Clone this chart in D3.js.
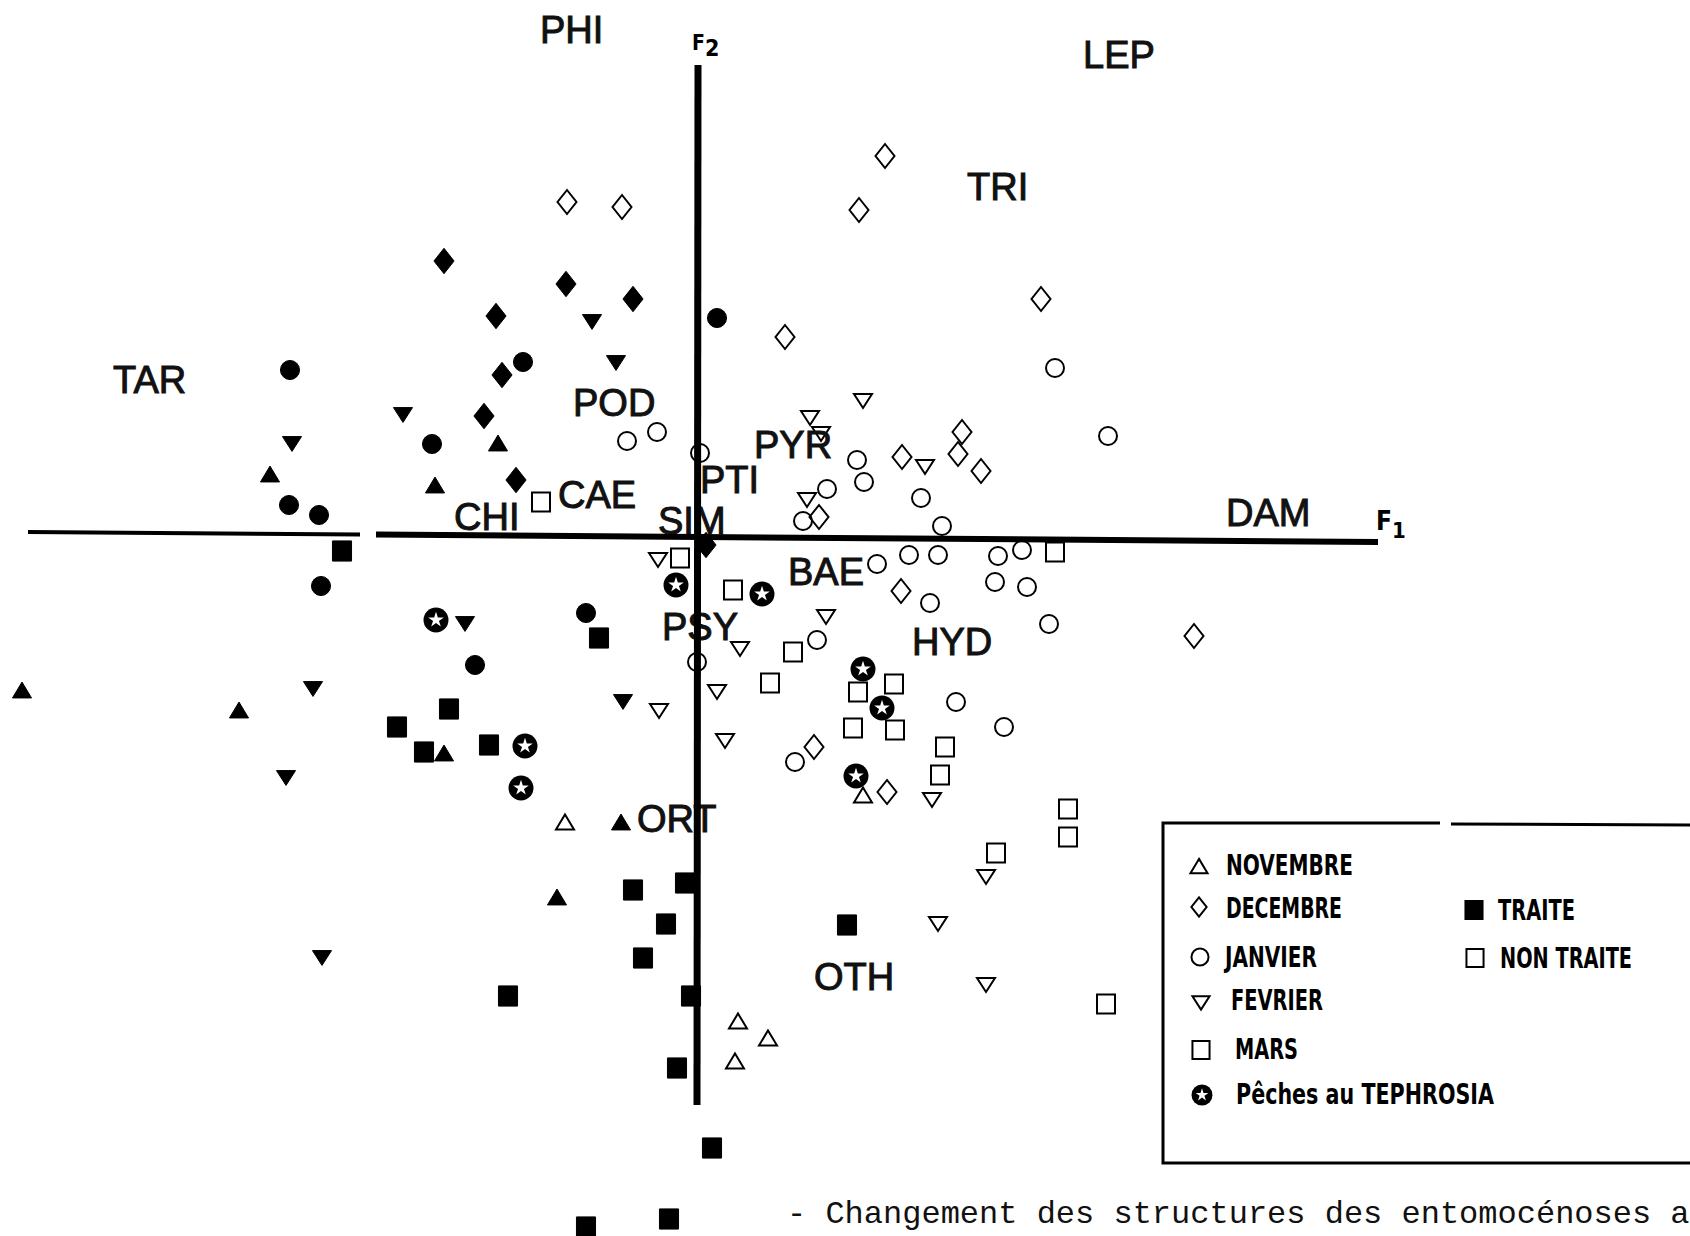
<!DOCTYPE html>
<html><head><meta charset="utf-8">
<script src="https://cdn.jsdelivr.net/npm/d3@7"></script>
<style>html,body{margin:0;padding:0;background:#fff;}svg{display:block;}</style>
</head><body>
<svg id="chart" width="1690" height="1236"></svg>
<script>
// ---------------- DATA (F1, F2 coordinates) ----------------
const novembreTraite = [[-2.00,0.94],[-4.28,0.63],[-2.63,0.52],[-6.76,-1.53],[-4.59,-1.73],[-2.54,-2.16],[-0.77,-2.85],[-1.41,-3.60]];
const novembreNonTraite = [[1.65,-2.58],[-1.33,-2.85],[0.40,-4.84],[0.70,-5.01],[0.37,-5.24]];
const decembreTraite = [[-2.54,2.76],[-1.32,2.53],[-0.65,2.38],[-2.02,2.21],[-1.96,1.62],[-2.14,1.21],[-1.82,0.57],[0.08,-0.08]];
const decembreNonTraite = [[-1.31,3.35],[-0.76,3.30],[1.87,3.81],[1.61,3.27],[3.43,2.38],[0.87,2.00],[2.64,1.05],[2.60,0.83],[2.83,0.66],[2.04,0.80],[1.21,0.20],[2.03,-0.54],[1.16,-2.10],[1.89,-2.55],[4.96,-0.99]];
const janvierTraite = [[0.19,2.19],[-1.75,1.75],[-4.08,1.67],[-2.66,0.93],[-4.09,0.32],[-3.79,0.22],[-3.77,-0.49],[-1.12,-0.76],[-2.23,-1.28]];
const janvierNonTraite = [[-0.71,0.96],[-0.41,1.05],[0.02,0.84],[3.57,1.69],[4.10,1.01],[1.59,0.77],[1.66,0.55],[1.29,0.48],[2.23,0.39],[1.05,0.16],[2.44,0.11],[1.79,-0.27],[2.11,-0.18],[2.40,-0.18],[3.00,-0.19],[3.24,-0.13],[2.32,-0.66],[2.97,-0.45],[3.29,-0.50],[3.51,-0.87],[1.19,-1.03],[-0.01,-1.25],[2.58,-1.65],[3.06,-1.90],[0.97,-2.25]];
const fevrierTraite = [[-1.06,2.15],[-0.82,1.74],[-2.95,1.22],[-4.06,0.93],[-2.33,-0.87],[-3.85,-1.52],[-0.75,-1.65],[-4.12,-2.41],[-3.76,-4.21]];
const fevrierNonTraite = [[1.65,1.36],[1.12,1.19],[1.23,1.03],[2.27,0.70],[1.09,0.37],[-0.40,-0.23],[1.28,-0.80],[0.42,-1.12],[0.19,-1.55],[-0.39,-1.74],[0.27,-2.04],[2.34,-2.63],[2.88,-3.40],[2.40,-3.87],[2.88,-4.48]];
const marsTraite = [[-3.56,-0.14],[-0.99,-1.01],[-2.49,-1.72],[-3.01,-1.90],[-2.74,-2.15],[-2.09,-2.08],[-0.65,-3.53],[-0.13,-3.46],[-0.32,-3.87],[-0.55,-4.21],[-1.90,-4.59],[-0.07,-4.59],[-0.21,-5.31],[0.14,-6.11],[-1.12,-6.90],[-0.29,-6.82],[1.49,-3.88]];
const marsNonTraite = [[-1.57,0.35],[-0.18,-0.21],[0.35,-0.53],[0.95,-1.15],[0.72,-1.46],[1.96,-1.47],[1.60,-1.55],[1.55,-1.91],[1.97,-1.93],[2.47,-2.10],[2.42,-2.38],[3.70,-2.72],[3.70,-3.00],[2.98,-3.16],[4.08,-4.67],[3.57,-0.15]];
const pechesTephrosia = [[-2.62,-0.83],[-1.73,-2.09],[-1.77,-2.51],[-0.22,-0.48],[0.64,-0.57],[1.65,-1.32],[1.84,-1.71],[1.58,-2.39]];

// group labels (left edge, baseline) in F1/F2 units
const groupNames = ["TAR","PHI","LEP","TRI","POD","CAE","CHI","SIM","PYR","PTI","BAE","PSY","HYD","ORT","OTH","DAM"];
const groupF1 = [-5.85,-1.58,3.85,2.69,-1.25,-1.40,-2.44,-0.40,0.56,0.02,0.90,-0.36,2.14,-0.61,1.16,5.28];
const groupF2 = [1.44,4.94,4.69,3.37,1.21,0.29,0.07,0.03,0.79,0.44,-0.48,-1.03,-1.18,-2.95,-4.53,0.11];

const monthLabels = ["NOVEMBRE","DECEMBRE","JANVIER","FEVRIER","MARS","Pêches au TEPHROSIA"];
const treatLabels = ["TRAITE","NON TRAITE"];
const axisNames = ["F", "1", "F", "2"];
const caption = "- Changement des structures des entomocénoses a";

// ---------------- CHART ----------------
const svg = d3.select("#chart");
const x = d3.scaleLinear().domain([-7, 7]).range([-2, 1398]);
const y = d3.scaleLinear().domain([6, -7]).range([-63, 1237]);

function shape(kind, s) {
  s = s || 1;
  const p = d3.path();
  if (kind === "triUp") { const w=18*s,h=15*s; p.moveTo(0,-h/2); p.lineTo(w/2,h/2); p.lineTo(-w/2,h/2); p.closePath(); }
  else if (kind === "triDown") { const w=18*s,h=14*s; p.moveTo(-w/2,-h/2); p.lineTo(w/2,-h/2); p.lineTo(0,h/2); p.closePath(); }
  else if (kind === "diamond") { const w=19*s,h=24*s; p.moveTo(0,-h/2); p.lineTo(w/2,0); p.lineTo(0,h/2); p.lineTo(-w/2,0); p.closePath(); }
  else if (kind === "circle") { p.arc(0,0,9*s,0,2*Math.PI); p.closePath(); }
  else if (kind === "square") { const w=18*s,h=19*s; p.rect(-w/2,-h/2,w,h); }
  return p.toString();
}

const series = [
  {data: novembreNonTraite, kind:"triUp", filled:false},
  {data: decembreNonTraite, kind:"diamond", filled:false},
  {data: janvierNonTraite, kind:"circle", filled:false},
  {data: fevrierNonTraite, kind:"triDown", filled:false},
  {data: marsNonTraite, kind:"square", filled:false},
  {data: novembreTraite, kind:"triUp", filled:true},
  {data: decembreTraite, kind:"diamond", filled:true},
  {data: janvierTraite, kind:"circle", filled:true},
  {data: fevrierTraite, kind:"triDown", filled:true},
  {data: marsTraite, kind:"square", filled:true}
];

const gPts = svg.append("g");
series.forEach(sr => {
  gPts.selectAll(null).data(sr.data).enter().append("path")
    .attr("transform", d => `translate(${x(d[0])},${y(d[1])})`)
    .attr("d", shape(sr.kind, sr.filled ? 1.06 : 1))
    .attr("fill", sr.filled ? "#000" : "none")
    .attr("stroke", "#000")
    .attr("stroke-width", sr.filled ? 1 : 2);
});

function teph(g, r, star) {
  g.append("circle").attr("r", r).attr("fill", "#000");
  g.append("path").attr("d", d3.symbol(d3.symbolStar, star)()).attr("fill", "#fff");
}
gPts.selectAll(null).data(pechesTephrosia).enter().append("g")
  .attr("transform", d => `translate(${x(d[0])},${y(d[1])})`)
  .each(function(){ teph(d3.select(this), 12.5, 75); });

// group labels
svg.append("g").selectAll("text").data(groupNames).enter().append("text")
  .attr("x", (d,i) => x(groupF1[i]))
  .attr("y", (d,i) => y(groupF2[i]))
  .attr("font-family", "'Liberation Sans', Arial, sans-serif")
  .attr("font-size", 38)
  .attr("fill", "#111")
  .attr("stroke", "#111").attr("stroke-width", 1)
  .text(d => d);

// axes (drawn on top, as in the figure)
const hy = f => 0.05 - (f + 6.70) / 13.5 * 0.10;
const ax = svg.append("g").attr("stroke", "#000").attr("stroke-linecap", "butt");
ax.append("line").attr("x1", x(-6.70)).attr("x2", x(-3.38)).attr("y1", y(hy(-6.70))).attr("y2", y(hy(-3.38))).attr("stroke-width", 4);
ax.append("line").attr("x1", x(-3.22)).attr("x2", x(6.80)).attr("y1", y(hy(-3.22))).attr("y2", y(hy(6.80))).attr("stroke-width", 6);
ax.append("line").attr("x1", x(0)).attr("x2", x(-0.01)).attr("y1", y(4.72)).attr("y2", y(-5.68)).attr("stroke-width", 7);

const narrow = "'Liberation Sans Narrow','DejaVu Sans Condensed',sans-serif";
const f1 = svg.append("text").attr("x", 1376).attr("y", 530).attr("font-family", narrow).attr("font-weight","bold").attr("font-size", 26);
f1.append("tspan").text(axisNames[0]);
f1.append("tspan").attr("dy", 8).attr("font-size", 22).text(axisNames[1]);
const f2 = svg.append("text").attr("x", 692).attr("y", 50).attr("font-family", narrow).attr("font-weight","bold").attr("font-size", 21);
f2.append("tspan").text(axisNames[2]);
f2.append("tspan").attr("dy", 6).attr("font-size", 23).text(axisNames[3]);

// legend
const lg = svg.append("g");
lg.append("path").attr("d", "M1440,823 L1163,823 L1163,1163 L1700,1163").attr("fill","none").attr("stroke","#000").attr("stroke-width",3);
lg.append("path").attr("d", "M1451,824 L1700,825").attr("fill","none").attr("stroke","#000").attr("stroke-width",3);
const legKinds = ["triUp","diamond","circle","triDown","square","teph"];
const legSym = [[1199,866],[1199,907],[1200,957],[1201,1003],[1201,1050],[1202,1095]];
const legTxt = [[1226,875,127],[1226,918,116],[1225,967,92],[1231,1010,92],[1235,1059,63],[1236,1104,258]];
monthLabels.forEach((m,i) => {
  const g = lg.append("g").attr("transform", `translate(${legSym[i][0]},${legSym[i][1]})`);
  if (legKinds[i] === "teph") teph(g, 10.5, 50);
  else g.append("path").attr("d", shape(legKinds[i], legKinds[i]==="diamond"?0.8:0.95)).attr("fill","none").attr("stroke","#000").attr("stroke-width",2);
  lg.append("text").attr("x", legTxt[i][0]).attr("y", legTxt[i][1]).attr("font-family", narrow).attr("font-weight","bold")
    .attr("font-size", 28).attr("textLength", legTxt[i][2]).attr("lengthAdjust","spacingAndGlyphs").text(m);
});
const trSym = [[1474,910],[1475,958]];
const trTxt = [[1498,920,77],[1500,968,132]];
treatLabels.forEach((t,i) => {
  lg.append("path").attr("transform", `translate(${trSym[i][0]},${trSym[i][1]})`).attr("d", shape("square", 0.95))
    .attr("fill", i===0 ? "#000" : "none").attr("stroke","#000").attr("stroke-width", 2);
  lg.append("text").attr("x", trTxt[i][0]).attr("y", trTxt[i][1]).attr("font-family", narrow).attr("font-weight","bold")
    .attr("font-size", 28).attr("textLength", trTxt[i][2]).attr("lengthAdjust","spacingAndGlyphs").text(t);
});

// caption
svg.append("text").attr("x", 787).attr("y", 1223)
  .attr("font-family", "'Liberation Mono','Courier New',monospace").attr("font-size", 32)
  .attr("fill", "#111").attr("xml:space","preserve").text(caption);
</script>
</body></html>
